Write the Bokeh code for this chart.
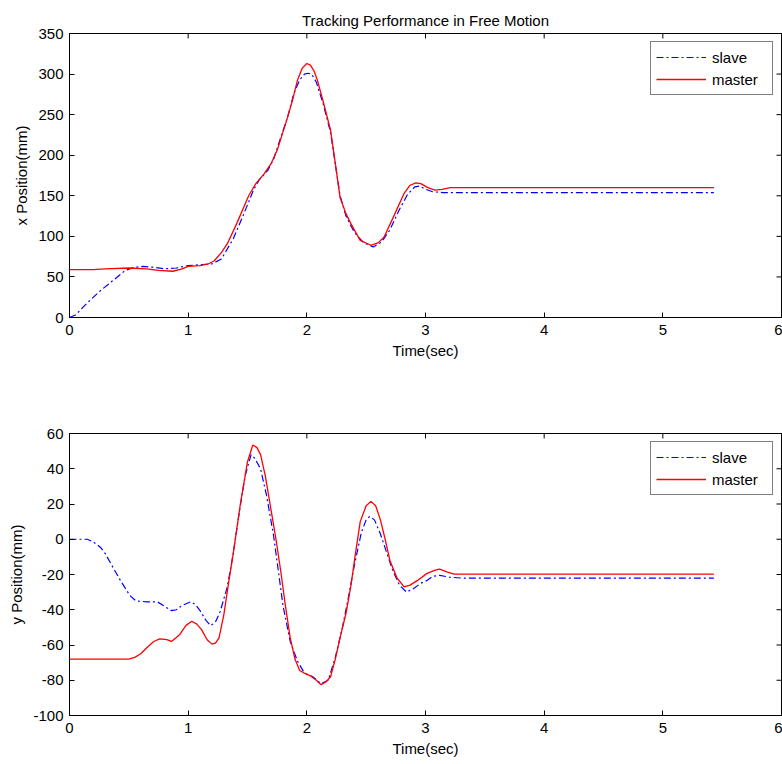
import math
from bokeh.plotting import figure
from bokeh.layouts import column
from bokeh.models import Range1d, FixedTicker, Legend, LegendItem
from bokeh.embed import file_html
from bokeh.resources import INLINE

# ---- data: top panel (x position, mm) ----
x_master_t = [0.00, 0.20, 0.30, 0.50, 0.65, 0.75, 0.87, 0.95, 1.00, 1.10, 1.17, 1.22, 1.28, 1.33,
              1.41, 1.51, 1.57, 1.64, 1.70, 1.75, 1.83, 1.88, 1.92, 1.96, 2.00, 2.03, 2.06, 2.09,
              2.14, 2.20, 2.24, 2.28, 2.33, 2.37, 2.45, 2.54, 2.60, 2.65, 2.73, 2.82, 2.87, 2.92,
              2.96, 3.02, 3.08, 3.14, 3.21, 5.43]
x_master_v = [59, 59, 60, 61, 60, 58, 57, 60, 63, 64, 66, 70, 80, 91,
              116, 150, 165, 177, 190, 206, 243, 268, 292, 307, 313, 311, 304, 292,
              265, 231, 190, 148, 128, 116, 95, 89, 92, 99, 124, 153, 163, 166,
              165, 160, 157, 158, 160, 160]

x_slave_t = [0.00, 0.05, 0.15, 0.26, 0.37, 0.47, 0.55, 0.62, 0.70, 0.80, 0.90, 1.00, 1.10, 1.20,
             1.28, 1.38, 1.47, 1.55, 1.60, 1.67, 1.72, 1.78, 1.84, 1.89, 1.94, 1.98, 2.01, 2.04,
             2.08, 2.14, 2.20, 2.28, 2.33, 2.40, 2.48, 2.56, 2.63, 2.70, 2.78, 2.85, 2.91, 2.95,
             3.00, 3.06, 3.15, 5.43]
x_slave_v = [0, 3, 18, 33, 46, 58, 62, 63, 62, 60, 61, 64, 65, 66,
             72, 97, 128, 157, 170, 181, 195, 222, 248, 276, 293, 300, 301, 300,
             290, 262, 228, 150, 125, 105, 92, 87, 93, 108, 133, 152, 161, 162,
             158, 155, 154, 154]

# ---- data: bottom panel (y position, mm) ----
y_master_t = [0.00, 0.50, 0.55, 0.60, 0.66, 0.71, 0.76, 0.82, 0.86, 0.93, 0.98, 1.03, 1.07, 1.11,
              1.16, 1.20, 1.23, 1.26, 1.30, 1.34, 1.38, 1.44, 1.50, 1.545, 1.58, 1.61, 1.65, 1.69,
              1.74, 1.78, 1.82, 1.86, 1.90, 1.94, 1.98, 2.03, 2.08, 2.12, 2.16, 2.20, 2.24, 2.28,
              2.33, 2.37, 2.41, 2.45, 2.50, 2.54, 2.58, 2.62, 2.66, 2.70, 2.76, 2.82, 2.87, 2.93,
              3.01, 3.08, 3.12, 3.18, 3.24, 5.43]
y_master_v = [-68, -68, -67, -65, -61, -58, -56.5, -57, -58, -54, -49, -46.5, -48, -51,
              -57, -59.5, -59, -56, -43, -25, -8, 20, 44, 53.5, 52, 48, 36, 20,
              0, -18, -38, -56, -68, -74.5, -76, -77.5, -80, -82.5, -81, -78, -68, -56,
              -42, -27, -8, 10, 19, 21.5, 19, 11, 0, -12, -22, -27, -26, -23.5,
              -19.5, -17.5, -17, -18.5, -19.8, -19.8]

y_slave_t = [0.00, 0.15, 0.20, 0.26, 0.30, 0.35, 0.43, 0.51, 0.56, 0.65, 0.74, 0.80, 0.86, 0.90,
             0.95, 1.02, 1.06, 1.10, 1.15, 1.19, 1.23, 1.27, 1.33, 1.38, 1.43, 1.48, 1.53, 1.56,
             1.61, 1.66, 1.72, 1.80, 1.86, 1.92, 1.98, 2.05, 2.12, 2.18, 2.24, 2.30, 2.35, 2.40,
             2.46, 2.50, 2.53, 2.57, 2.62, 2.67, 2.72, 2.78, 2.84, 2.90, 2.96, 3.01, 3.06, 3.12,
             3.20, 3.30, 5.43]
y_slave_v = [0, 0, -1.5, -4.5, -8, -14, -23.5, -32, -35, -35.5, -35.5, -38, -40.5, -40,
             -37.5, -35.5, -37, -40.5, -46, -49, -47, -41, -27, -8, 15, 36, 48, 46,
             40, 25, 2, -38, -58, -69, -76, -78, -82, -80, -67, -50, -33, -15,
             4, 11, 13, 11, 3, -7, -17, -26, -30, -28, -25, -23.5, -21, -20.5,
             -21.5, -22, -22]

x_ticks = [0, 1, 2, 3, 4, 5, 6]
top_y_ticks = [0, 50, 100, 150, 200, 250, 300, 350]
bot_y_ticks = [-100, -80, -60, -40, -20, 0, 20, 40, 60]

FONT = "Liberation Sans"
FS = "15px"
BLUE = "#0000ff"
RED = "#ff0000"


def style_axis(ax, ticks):
    ax.ticker = FixedTicker(ticks=ticks)
    ax.major_label_overrides = {t: str(t) for t in ticks}
    ax.minor_tick_line_color = None
    ax.major_tick_in = 5
    ax.major_tick_out = 0
    ax.axis_line_color = "black"
    ax.major_tick_line_color = "black"
    ax.major_label_text_font = FONT
    ax.major_label_text_font_size = FS
    ax.major_label_text_color = "black"
    ax.axis_label_text_font = FONT
    ax.axis_label_text_font_size = FS
    ax.axis_label_text_font_style = "normal"
    ax.axis_label_text_color = "black"


def make_panel(height, y0, y1, yticks, ylabel, t_s, v_s, t_m, v_m, border_top, border_bottom):
    p = figure(width=782, height=height, output_backend="svg", toolbar_location=None,
               x_range=Range1d(0, 6), y_range=Range1d(y0, y1),
               min_border_left=69, min_border_right=1,
               min_border_top=border_top, min_border_bottom=border_bottom)
    p.xgrid.visible = False
    p.ygrid.visible = False
    p.outline_line_color = "black"
    p.outline_line_alpha = 1.0
    p.background_fill_color = "white"
    p.border_fill_color = "white"

    style_axis(p.xaxis[0], x_ticks)
    style_axis(p.yaxis[0], yticks)
    p.xaxis[0].major_label_standoff = 7
    p.yaxis[0].major_label_standoff = 6
    p.xaxis[0].axis_label = "Time(sec)"
    p.yaxis[0].axis_label = ylabel
    p.xaxis[0].axis_label_standoff = 4
    p.yaxis[0].axis_label_standoff = 5

    # inward tick marks on the top and right edges of the box (MATLAB style)
    p.scatter(x_ticks, [y1] * len(x_ticks), marker="dash", angle=math.pi / 2,
              size=10, line_color="black", line_width=1)
    p.scatter([6] * len(yticks), yticks, marker="dash",
              size=10, line_color="black", line_width=1)

    r_s = p.line(t_s, v_s, line_color=BLUE, line_width=1.2, line_dash="7 3 2 3")
    r_m = p.line(t_m, v_m, line_color=RED, line_width=1.3)

    leg = Legend(items=[LegendItem(label="slave", renderers=[r_s]),
                        LegendItem(label="master", renderers=[r_m])],
                 location="top_right")
    leg.border_line_color = "black"
    leg.border_line_width = 1
    leg.background_fill_color = "white"
    leg.background_fill_alpha = 1.0
    leg.label_text_font = FONT
    leg.label_text_font_size = FS
    leg.label_text_color = "black"
    leg.glyph_width = 50
    leg.glyph_height = 20
    leg.label_standoff = 6
    leg.label_width = 55
    leg.padding = 5
    leg.spacing = 2
    leg.margin = 8
    p.add_layout(leg, "center")
    return p


p1 = make_panel(390, 0, 350, top_y_ticks, "x Position(mm)",
                x_slave_t, x_slave_v, x_master_t, x_master_v, 33, 73)
p1.title.text = "Tracking Performance in Free Motion"
p1.title.align = "center"
p1.title.text_font = FONT
p1.title.text_font_size = FS
p1.title.text_font_style = "normal"
p1.title.text_color = "black"
p1.title.standoff = 10

p2 = make_panel(374, -100, 60, bot_y_ticks, "y Position(mm)",
                y_slave_t, y_slave_v, y_master_t, y_master_v, 43, 49)

layout = column(p1, p2, spacing=0)
open("out.html", "w").write(file_html(layout, INLINE))
